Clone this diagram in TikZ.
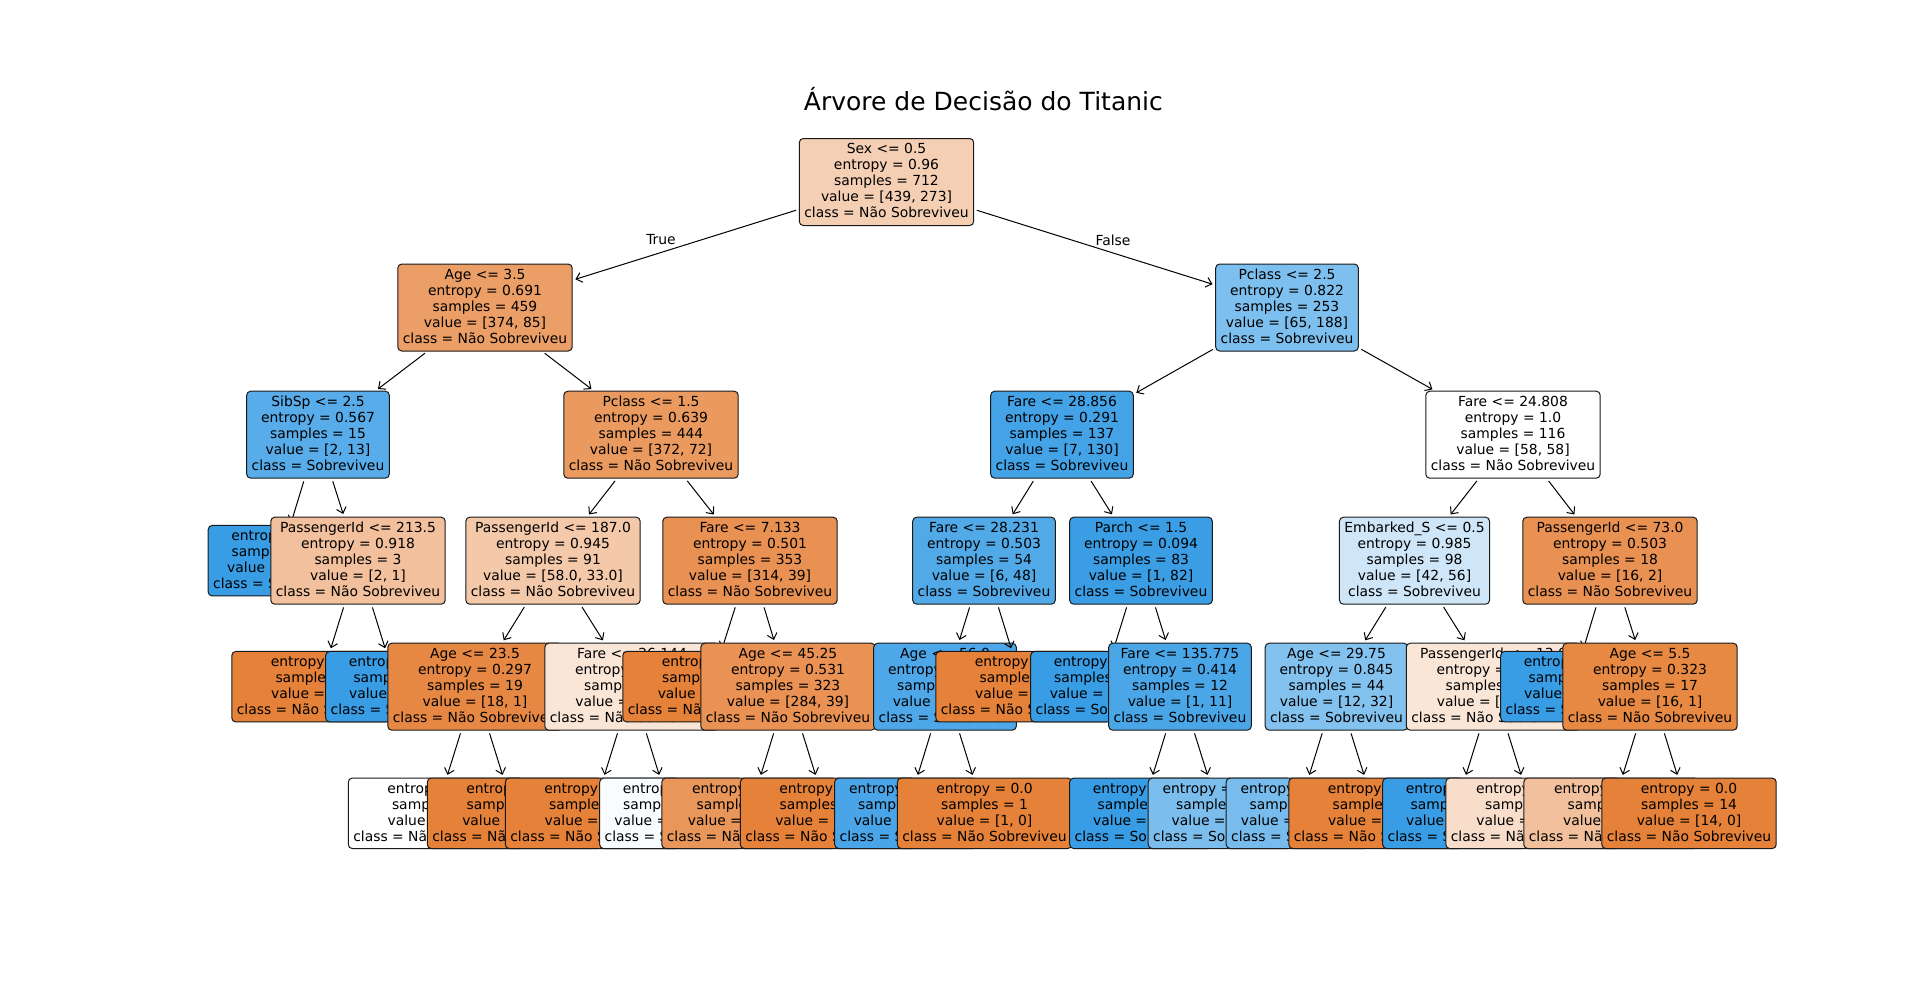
\documentclass[tikz,border=0pt]{standalone}
\usepackage{fontspec}
\setmainfont{DejaVu Sans}
\usetikzlibrary{arrows.meta}
\definecolor{cO}{RGB}{229,129,57}
\definecolor{cB}{RGB}{57,157,229}
\definecolor{cRoot}{RGB}{245,207,180}
\definecolor{cAgeA}{RGB}{235,158,102}
\definecolor{cPclA}{RGB}{125,191,238}
\definecolor{cSib}{RGB}{88,172,233}
\definecolor{cPclB}{RGB}{234,153,95}
\definecolor{cFareA}{RGB}{68,162,230}
\definecolor{cTwoOne}{RGB}{242,192,156}
\definecolor{cPidA}{RGB}{244,201,170}
\definecolor{cFareB}{RGB}{232,145,82}
\definecolor{cFareC}{RGB}{82,169,232}
\definecolor{cParch}{RGB}{59,158,229}
\definecolor{cEmb}{RGB}{206,230,248}
\definecolor{cAgeB}{RGB}{230,136,68}
\definecolor{cPeach}{RGB}{250,230,215}
\definecolor{cAgeC}{RGB}{233,146,84}
\definecolor{cAgeD}{RGB}{78,167,232}
\definecolor{cFareD}{RGB}{75,166,231}
\definecolor{cAgeE}{RGB}{131,194,239}
\definecolor{cAgeF}{RGB}{231,137,67}
\definecolor{cLA}{RGB}{249,252,254}
\definecolor{cLB}{RGB}{233,150,90}
\definecolor{cLC}{RGB}{73,165,231}
\definecolor{cLD}{RGB}{123,190,238}
\definecolor{cLE}{RGB}{119,188,237}
\definecolor{cLF}{RGB}{248,221,202}
\definecolor{cEdge}{RGB}{26,26,26}
\tikzset{
  tbox/.style={draw=cEdge, line width=0.5pt, rounded corners=2pt, align=center,
    inner xsep=2.5pt, inner ysep=0pt, font=\fontsize{6.94}{8}\selectfont,
    execute at end node={\vphantom{g}}},
  dn/.style={tbox, minimum height=43.5pt},
  lfn/.style={tbox, minimum height=35.25pt},
  ed/.style={draw=black, line width=0.5pt, -{Straight Barb[length=2.8pt,width=5pt]},
    shorten >=1.4pt, shorten <=1.4pt},
  lbl/.style={font=\fontsize{6.94}{8}\selectfont, inner sep=0pt},
}
\begin{document}
\begin{tikzpicture}[x=0.5pt,y=-0.5pt]
\fill[white] (0,0) rectangle (1920,985);
\useasboundingbox (0,0) rectangle (1920,985);
\node[font=\fontsize{12.5}{15}\selectfont, anchor=base, inner sep=0pt] (title) at (983.4,110.7) {Árvore de Decisão do Titanic};

\node[dn, fill=cRoot] (n0) at (886.5,182) {Sex <= 0.5\\entropy = 0.96\\samples = 712\\value = [439, 273]\\class = Não Sobreviveu};
% left subtree
\node[dn, fill=cAgeA] (n1) at (485,307.5) {Age <= 3.5\\entropy = 0.691\\samples = 459\\value = [374, 85]\\class = Não Sobreviveu};
\draw[ed] (n0) -- (n1);
\node[dn, fill=cSib] (n2) at (318,434.7) {SibSp <= 2.5\\entropy = 0.567\\samples = 15\\value = [2, 13]\\class = Sobreviveu};
\draw[ed] (n1) -- (n2);
\node[lfn, fill=cB] (n3) at (279.5,560.7) {entropy = 0.0\\samples = 12\\value = [0, 12]\\class = Sobreviveu};
\draw[ed] (n2) -- (n3);
\node[dn, fill=cTwoOne] (n4) at (358,560.7) {PassengerId <= 213.5\\entropy = 0.918\\samples = 3\\value = [2, 1]\\class = Não Sobreviveu};
\draw[ed] (n2) -- (n4);
\node[lfn, fill=cO] (n5) at (319,686.7) {entropy = 0.0\\samples = 2\\value = [2, 0]\\class = Não Sobreviveu};
\draw[ed] (n4) -- (n5);
\node[lfn, fill=cB] (n6) at (397,686.7) {entropy = 0.0\\samples = 1\\value = [0, 1]\\class = Sobreviveu};
\draw[ed] (n4) -- (n6);
\node[dn, fill=cPclB] (n7) at (651,434.7) {Pclass <= 1.5\\entropy = 0.639\\samples = 444\\value = [372, 72]\\class = Não Sobreviveu};
\draw[ed] (n1) -- (n7);
\node[dn, fill=cPidA] (n8) at (553,560.7) {PassengerId <= 187.0\\entropy = 0.945\\samples = 91\\value = [58.0, 33.0]\\class = Não Sobreviveu};
\draw[ed] (n7) -- (n8);
\node[dn, fill=cAgeB] (n9) at (475,686.7) {Age <= 23.5\\entropy = 0.297\\samples = 19\\value = [18, 1]\\class = Não Sobreviveu};
\draw[ed] (n8) -- (n9);
\node[lfn, fill=white] (n10) at (435.5,813.3) {entropy = 1.0\\samples = 2\\value = [1, 1]\\class = Não Sobreviveu};
\draw[ed] (n9) -- (n10);
\node[lfn, fill=cO] (n11) at (514.5,813.3) {entropy = 0.0\\samples = 17\\value = [17, 0]\\class = Não Sobreviveu};
\draw[ed] (n9) -- (n11);
\node[dn, fill=cPeach] (n12) at (632,686.7) {Fare <= 26.144\\entropy = 0.991\\samples = 72\\value = [40, 32]\\class = Não Sobreviveu};
\draw[ed] (n8) -- (n12);
\node[lfn, fill=cO] (n13) at (592.5,813.3) {entropy = 0.0\\samples = 9\\value = [9, 0]\\class = Não Sobreviveu};
\draw[ed] (n12) -- (n13);
\node[lfn, fill=cLA] (n14) at (671,813.3) {entropy = 1.0\\samples = 63\\value = [31, 32]\\class = Sobreviveu};
\draw[ed] (n12) -- (n14);
\node[dn, fill=cFareB] (n15) at (750,560.7) {Fare <= 7.133\\entropy = 0.501\\samples = 353\\value = [314, 39]\\class = Não Sobreviveu};
\draw[ed] (n7) -- (n15);
\node[lfn, fill=cO] (n16) at (710,686.7) {entropy = 0.0\\samples = 30\\value = [30, 0]\\class = Não Sobreviveu};
\draw[ed] (n15) -- (n16);
\node[dn, fill=cAgeC] (n17) at (788,686.7) {Age <= 45.25\\entropy = 0.531\\samples = 323\\value = [284, 39]\\class = Não Sobreviveu};
\draw[ed] (n15) -- (n17);
\node[lfn, fill=cLB] (n18) at (749,813.3) {entropy = 0.592\\samples = 273\\value = [234, 39]\\class = Não Sobreviveu};
\draw[ed] (n17) -- (n18);
\node[lfn, fill=cO] (n19) at (827.5,813.3) {entropy = 0.0\\samples = 50\\value = [50, 0]\\class = Não Sobreviveu};
\draw[ed] (n17) -- (n19);
% right subtree
\node[dn, fill=cPclA] (n20) at (1287,307.5) {Pclass <= 2.5\\entropy = 0.822\\samples = 253\\value = [65, 188]\\class = Sobreviveu};
\draw[ed] (n0) -- (n20);
\node[dn, fill=cFareA] (n21) at (1062,434.7) {Fare <= 28.856\\entropy = 0.291\\samples = 137\\value = [7, 130]\\class = Sobreviveu};
\draw[ed] (n20) -- (n21);
\node[dn, fill=cFareC] (n22) at (984,560.7) {Fare <= 28.231\\entropy = 0.503\\samples = 54\\value = [6, 48]\\class = Sobreviveu};
\draw[ed] (n21) -- (n22);
\node[dn, fill=cAgeD] (n23) at (945,686.7) {Age <= 56.0\\entropy = 0.451\\samples = 53\\value = [5, 48]\\class = Sobreviveu};
\draw[ed] (n22) -- (n23);
\node[lfn, fill=cLC] (n24) at (906,813.3) {entropy = 0.391\\samples = 52\\value = [4, 48]\\class = Sobreviveu};
\draw[ed] (n23) -- (n24);
\node[lfn, fill=cO] (n25) at (984.5,813.3) {entropy = 0.0\\samples = 1\\value = [1, 0]\\class = Não Sobreviveu};
\draw[ed] (n23) -- (n25);
\node[lfn, fill=cO] (n26) at (1023,686.7) {entropy = 0.0\\samples = 1\\value = [1, 0]\\class = Não Sobreviveu};
\draw[ed] (n22) -- (n26);
\node[dn, fill=cParch] (n27) at (1141,560.7) {Parch <= 1.5\\entropy = 0.094\\samples = 83\\value = [1, 82]\\class = Sobreviveu};
\draw[ed] (n21) -- (n27);
\node[lfn, fill=cB] (n28) at (1102,686.7) {entropy = 0.0\\samples = 71\\value = [0, 71]\\class = Sobreviveu};
\draw[ed] (n27) -- (n28);
\node[dn, fill=cFareD] (n29) at (1180,686.7) {Fare <= 135.775\\entropy = 0.414\\samples = 12\\value = [1, 11]\\class = Sobreviveu};
\draw[ed] (n27) -- (n29);
\node[lfn, fill=cB] (n30) at (1141,813.3) {entropy = 0.0\\samples = 8\\value = [0, 8]\\class = Sobreviveu};
\draw[ed] (n29) -- (n30);
\node[lfn, fill=cLD] (n31) at (1219.5,813.3) {entropy = 0.811\\samples = 4\\value = [1, 3]\\class = Sobreviveu};
\draw[ed] (n29) -- (n31);
\node[dn, fill=white] (n32) at (1513,434.7) {Fare <= 24.808\\entropy = 1.0\\samples = 116\\value = [58, 58]\\class = Não Sobreviveu};
\draw[ed] (n20) -- (n32);
\node[dn, fill=cEmb] (n33) at (1414.5,560.7) {Embarked\_S <= 0.5\\entropy = 0.985\\samples = 98\\value = [42, 56]\\class = Sobreviveu};
\draw[ed] (n32) -- (n33);
\node[dn, fill=cAgeE] (n34) at (1336.5,686.7) {Age <= 29.75\\entropy = 0.845\\samples = 44\\value = [12, 32]\\class = Sobreviveu};
\draw[ed] (n33) -- (n34);
\node[lfn, fill=cLE] (n35) at (1297.5,813.3) {entropy = 0.792\\samples = 42\\value = [10, 32]\\class = Sobreviveu};
\draw[ed] (n34) -- (n35);
\node[lfn, fill=cO] (n36) at (1376,813.3) {entropy = 0.0\\samples = 2\\value = [2, 0]\\class = Não Sobreviveu};
\draw[ed] (n34) -- (n36);
\node[dn, fill=cPeach] (n37) at (1493.5,686.7) {PassengerId <= 13.0\\entropy = 0.991\\samples = 54\\value = [30, 24]\\class = Não Sobreviveu};
\draw[ed] (n33) -- (n37);
\node[lfn, fill=cB] (n38) at (1454,813.3) {entropy = 0.0\\samples = 2\\value = [0, 2]\\class = Sobreviveu};
\draw[ed] (n37) -- (n38);
\node[lfn, fill=cLF] (n39) at (1533,813.3) {entropy = 0.983\\samples = 52\\value = [30, 22]\\class = Não Sobreviveu};
\draw[ed] (n37) -- (n39);
\node[dn, fill=cFareB] (n40) at (1610,560.7) {PassengerId <= 73.0\\entropy = 0.503\\samples = 18\\value = [16, 2]\\class = Não Sobreviveu};
\draw[ed] (n32) -- (n40);
\node[lfn, fill=cB] (n41) at (1572,686.7) {entropy = 0.0\\samples = 1\\value = [0, 1]\\class = Sobreviveu};
\draw[ed] (n40) -- (n41);
\node[dn, fill=cAgeF] (n42) at (1650,686.7) {Age <= 5.5\\entropy = 0.323\\samples = 17\\value = [16, 1]\\class = Não Sobreviveu};
\draw[ed] (n40) -- (n42);
\node[lfn, fill=cTwoOne] (n43) at (1611,813.3) {entropy = 0.918\\samples = 3\\value = [2, 1]\\class = Não Sobreviveu};
\draw[ed] (n42) -- (n43);
\node[lfn, fill=cO] (n44) at (1689,813.3) {entropy = 0.0\\samples = 14\\value = [14, 0]\\class = Não Sobreviveu};
\draw[ed] (n42) -- (n44);

\node[lbl] (tlab) at (661,240) {True};
\node[lbl] (flab) at (1113,240) {False};
\end{tikzpicture}
\end{document}
